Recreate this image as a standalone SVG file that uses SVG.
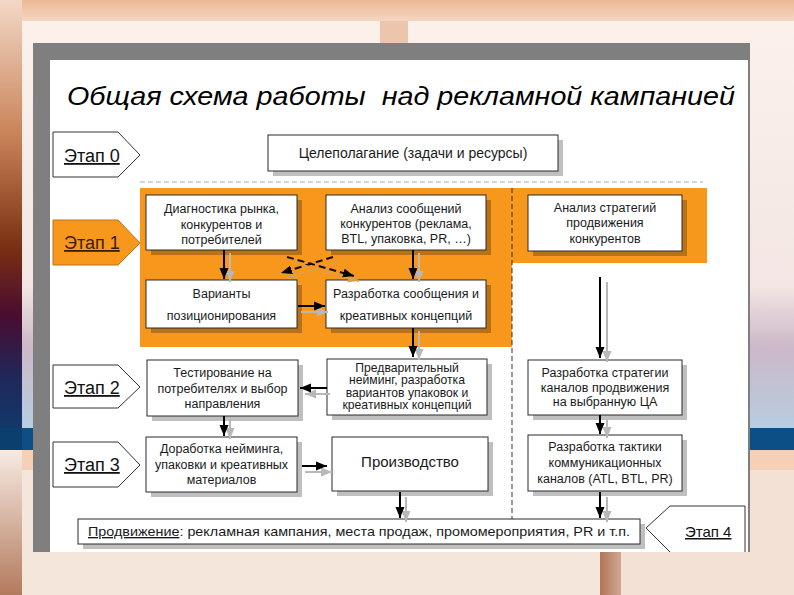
<svg xmlns="http://www.w3.org/2000/svg" width="794" height="595" viewBox="0 0 794 595">
<defs>
<style>
text{font-family:"Liberation Sans",Arial,sans-serif;fill:#1a1a1a}
.t{font-size:12.5px;text-anchor:middle}
.t2{font-size:12.2px;text-anchor:middle}
.stage{font-size:18px;text-decoration:underline;fill:#111}
.box{fill:#fff;stroke:#2a2a2a;stroke-width:1}
.sh{fill:#000;fill-opacity:0.25}
.pent{fill:#fff;stroke:#333;stroke-width:1}
.ar{stroke:#000;stroke-width:2;fill:none;marker-end:url(#ah)}
.as{stroke:#b8b8b8;stroke-width:2;fill:none;marker-end:url(#ahg)}
.ad{stroke:#1a0a00;stroke-width:2;fill:none;stroke-dasharray:7,4;marker-end:url(#ah)}
.ads{stroke:#d8a050;stroke-width:2;fill:none;stroke-dasharray:7,4;marker-end:url(#aho)}
</style>
<marker id="ah" markerUnits="userSpaceOnUse" markerWidth="12" markerHeight="12" viewBox="0 0 12 12" refX="11" refY="6" orient="auto"><path d="M0,1.5 L11,6 L0,10.5 Z" fill="#000"/></marker>
<marker id="ahg" markerUnits="userSpaceOnUse" markerWidth="12" markerHeight="12" viewBox="0 0 12 12" refX="11" refY="6" orient="auto"><path d="M0,1.5 L11,6 L0,10.5 Z" fill="#b8b8b8"/></marker>
<marker id="aho" markerUnits="userSpaceOnUse" markerWidth="12" markerHeight="12" viewBox="0 0 12 12" refX="11" refY="6" orient="auto"><path d="M0,1.5 L11,6 L0,10.5 Z" fill="#d8a050"/></marker>
<linearGradient id="leftTop" x1="0" y1="0" x2="0" y2="1">
<stop offset="0" stop-color="#f3d8c6"/><stop offset="0.3" stop-color="#c98358"/><stop offset="0.55" stop-color="#7a3012"/><stop offset="0.7" stop-color="#4a0c30"/><stop offset="0.84" stop-color="#20285a"/><stop offset="1" stop-color="#0b4070"/>
</linearGradient>
<linearGradient id="leftBot" x1="0" y1="0" x2="0" y2="1"><stop offset="0" stop-color="#f7ebe2"/><stop offset="1" stop-color="#b27a5c"/></linearGradient>
<linearGradient id="panel" x1="0" y1="0" x2="0" y2="1"><stop offset="0" stop-color="#fbf1ea"/><stop offset="0.65" stop-color="#f3e6e4"/><stop offset="0.8" stop-color="#ccb8c8"/><stop offset="1" stop-color="#b6cde0"/></linearGradient>
<linearGradient id="top" x1="0" y1="0" x2="0" y2="1"><stop offset="0" stop-color="#eeb896"/><stop offset="1" stop-color="#f5d7c3"/></linearGradient>
<linearGradient id="brown" x1="0" y1="0" x2="1" y2="0"><stop offset="0" stop-color="#b27458"/><stop offset="1" stop-color="#d0a890"/></linearGradient>
</defs>

<!-- background -->
<rect x="0" y="0" width="794" height="595" fill="#f4e0d4"/>
<rect x="0" y="0" width="794" height="22" fill="url(#top)"/>
<rect x="0" y="0" width="22" height="450" fill="url(#leftTop)"/>
<rect x="0" y="450" width="22" height="145" fill="url(#leftBot)"/>
<rect x="22" y="21" width="358" height="407" fill="url(#panel)"/>
<rect x="380" y="21" width="28" height="30" fill="#ecc6ac"/>
<rect x="408" y="21" width="386" height="407" fill="url(#panel)"/>
<rect x="0" y="428" width="794" height="22" fill="#0b4f86"/>
<rect x="0" y="428" width="22" height="22" fill="#0b3f6e"/>
<rect x="22" y="450" width="772" height="20" fill="#f5cfb6"/>
<rect x="22" y="470" width="578" height="125" fill="#f5e6dc"/>
<rect x="600" y="470" width="21" height="125" fill="url(#brown)"/>
<rect x="621" y="470" width="173" height="125" fill="#f3e1d6"/>

<!-- frame -->
<rect x="33" y="43" width="717" height="509" fill="#7f7f7f"/>
<rect x="50" y="60" width="698" height="492" fill="#fff"/>

<text x="67" y="105" font-size="25" font-style="italic" textLength="668" lengthAdjust="spacingAndGlyphs" xml:space="preserve" style="fill:#000">Общая схема работы  над рекламной кампанией</text>

<!-- orange area and separators -->
<path d="M140,188 H707 V263 H512 V347 H140 Z" fill="#f7971c"/>
<line x1="140" y1="182" x2="703" y2="182" stroke="#aaa" stroke-width="1" stroke-dasharray="5,3"/>
<line x1="512" y1="188" x2="512" y2="524" stroke="#333" stroke-width="1" stroke-dasharray="5,3"/>

<!-- stages -->
<g id="stage0"><polygon class="pent" points="53,132 118,132 140,155 118,177 53,177"/><text class="stage" x="64" y="162">Этап 0</text></g>
<g id="stage1"><polygon points="53,220 118,220 140,243 118,265 53,265" fill="#f7971c" stroke="#c0701c"/><text class="stage" x="64" y="249" style="fill:#3a1e08">Этап 1</text></g>
<g id="stage2"><polygon class="pent" points="53,365 118,365 140,387 118,408 53,408"/><text class="stage" x="64" y="394">Этап 2</text></g>
<g id="stage3"><polygon class="pent" points="53,442 118,442 140,465 118,487 53,487"/><text class="stage" x="64" y="471">Этап 3</text></g>
<g id="stage4"><polygon points="646,528 670,506 745,506 745,552 670,552" fill="#fff"/><polyline points="670,552 646,528 670,506 745,506 745,552" fill="none" stroke="#333" stroke-width="1"/><text class="stage" x="685" y="537" style="font-size:15px">Этап 4</text></g>

<!-- nodes -->
<g id="n-goal"><rect class="sh" x="273" y="140" width="290" height="36"/><rect class="box" x="268" y="135" width="290" height="36"/><text x="413" y="158" font-size="14" text-anchor="middle">Целеполагание (задачи и ресурсы)</text></g>

<g id="n-diag"><rect class="sh" x="151" y="200" width="151" height="55"/><rect class="box" x="146" y="195" width="151" height="55"/><text class="t" x="221.5" y="213">Диагностика рынка,</text><text class="t" x="221.5" y="229">конкурентов и</text><text class="t" x="221.5" y="244">потребителей</text></g>

<g id="n-analiz-msg"><rect class="sh" x="331" y="200" width="160" height="55"/><rect class="box" x="326" y="195" width="160" height="55"/><text class="t" x="406" y="213">Анализ сообщений</text><text class="t" x="406" y="228">конкурентов (реклама,</text><text class="t" x="406" y="243">BTL, упаковка, PR, …)</text></g>

<g id="n-analiz-str"><rect class="sh" x="533" y="200" width="154" height="56"/><rect class="box" x="528" y="195" width="154" height="56"/><text class="t" x="605" y="212">Анализ стратегий</text><text class="t" x="605" y="227">продвижения</text><text class="t" x="605" y="243">конкурентов</text></g>

<g id="n-pos"><rect class="sh" x="151" y="285" width="151" height="48"/><rect class="box" x="146" y="280" width="151" height="48"/><text class="t" x="221.5" y="298">Варианты</text><text class="t" x="221.5" y="320">позиционирования</text></g>

<g id="n-msg"><rect class="sh" x="331" y="285" width="160" height="48"/><rect class="box" x="326" y="280" width="160" height="48"/><text class="t" x="406" y="298">Разработка сообщения и</text><text class="t" x="406" y="320">креативных концепций</text></g>

<g id="n-test"><rect class="sh" x="152" y="365" width="151" height="56"/><rect class="box" x="147" y="360" width="151" height="56"/><text class="t" x="222.5" y="377">Тестирование на</text><text class="t" x="222.5" y="393">потребителях и выбор</text><text class="t" x="222.5" y="408">направления</text></g>

<g id="n-pre"><rect class="sh" x="332" y="364" width="160" height="56"/><rect class="box" x="327" y="359" width="160" height="56"/><text class="t2" x="407" y="371.5">Предварительный</text><text class="t2" x="407" y="384">нейминг, разработка</text><text class="t2" x="407" y="396.5">вариантов упаковок и</text><text class="t2" x="407" y="409">креативных концепций</text></g>

<g id="n-channels"><rect class="sh" x="533" y="365" width="154" height="55"/><rect class="box" x="528" y="360" width="154" height="55"/><text class="t" x="605" y="377">Разработка стратегии</text><text class="t" x="605" y="392">каналов продвижения</text><text class="t" x="605" y="406">на выбранную ЦА</text></g>

<g id="n-refine"><rect class="sh" x="151" y="442" width="151" height="55"/><rect class="box" x="146" y="437" width="151" height="55"/><text class="t" x="221.5" y="453">Доработка нейминга,</text><text class="t" x="221.5" y="469">упаковки и креативных</text><text class="t" x="221.5" y="484">материалов</text></g>

<g id="n-prod"><rect class="sh" x="337" y="442" width="156" height="54"/><rect class="box" x="332" y="437" width="156" height="54"/><text x="410" y="467" font-size="15" text-anchor="middle">Производство</text></g>

<g id="n-tactics"><rect class="sh" x="533" y="440" width="154" height="56"/><rect class="box" x="528" y="435" width="154" height="56"/><text class="t" x="605" y="451">Разработка тактики</text><text class="t" x="605" y="467">коммуникационных</text><text class="t" x="605" y="483">каналов (ATL, BTL, PR)</text></g>

<g id="n-promo"><rect class="sh" x="83" y="524" width="562" height="25"/><rect class="box" x="78" y="519" width="562" height="25"/><text x="88" y="536" font-size="13.5" textLength="542" lengthAdjust="spacingAndGlyphs"><tspan text-decoration="underline">Продвижение</tspan>: рекламная кампания, места продаж, промомероприятия, PR и т.п.</text></g>

<!-- connectors -->
<g id="connectors">
<line class="as" x1="230" y1="253" x2="230" y2="282"/><line class="ar" x1="224" y1="250" x2="224" y2="279"/>
<line class="as" x1="419" y1="253" x2="419" y2="282"/><line class="ar" x1="413" y1="250" x2="413" y2="279"/>
<line class="as" x1="301" y1="312" x2="328" y2="312"/><line class="ar" x1="298" y1="306" x2="325" y2="306"/>
<line class="as" x1="419" y1="331" x2="419" y2="360"/><line class="ar" x1="413" y1="328" x2="413" y2="357"/>
<line class="as" x1="330" y1="394" x2="305" y2="394"/><line class="ar" x1="327" y1="388" x2="300" y2="388"/>
<line class="as" x1="230" y1="419" x2="230" y2="439"/><line class="ar" x1="224" y1="416" x2="224" y2="436"/>
<line class="as" x1="305" y1="472" x2="332" y2="472"/><line class="ar" x1="302" y1="466" x2="327" y2="466"/>
<line class="as" x1="406" y1="497" x2="406" y2="522"/><line class="ar" x1="400" y1="492" x2="400" y2="518"/>
<line class="as" x1="607" y1="282" x2="607" y2="362"/><line class="ar" x1="600" y1="277" x2="600" y2="358"/>
<line class="as" x1="607" y1="420" x2="607" y2="438"/><line class="ar" x1="600" y1="415" x2="600" y2="434"/>
<line class="as" x1="607" y1="497" x2="607" y2="522"/><line class="ar" x1="600" y1="492" x2="600" y2="518"/>
<line class="ads" x1="338" y1="262" x2="286" y2="278"/><line class="ad" x1="333" y1="257" x2="281" y2="273"/>
<line class="ads" x1="292" y1="262" x2="359" y2="281"/><line class="ad" x1="287" y1="257" x2="354" y2="276"/>
</g>
</svg>
